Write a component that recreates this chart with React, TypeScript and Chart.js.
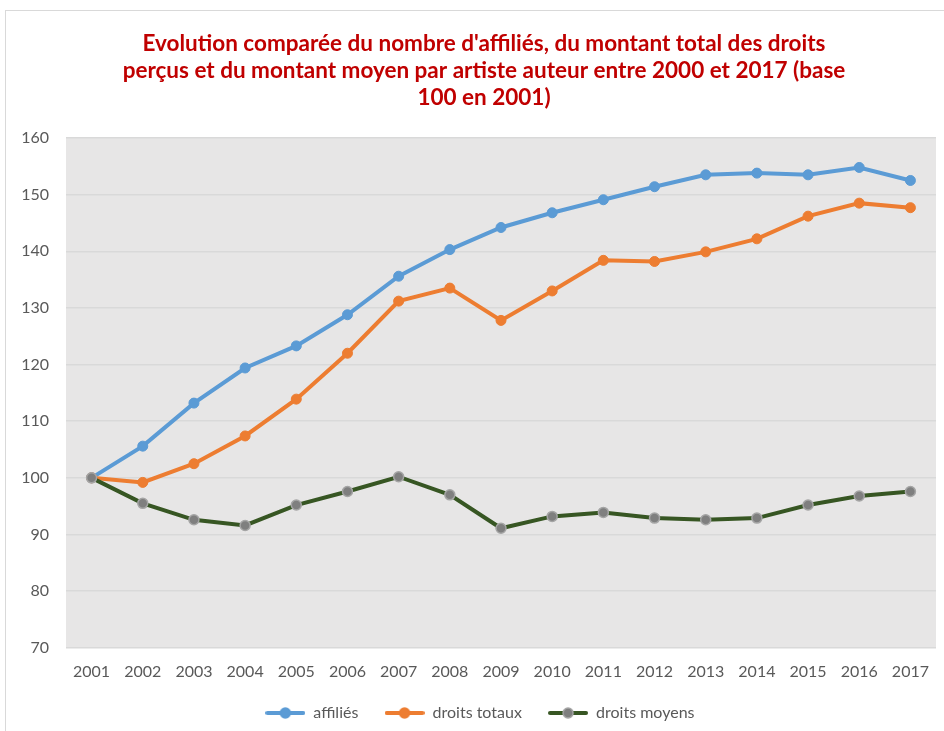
import React, { useEffect, useRef } from "react";
import { Chart, registerables } from "chart.js";

Chart.register(...registerables);

const years = ["2001","2002","2003","2004","2005","2006","2007","2008","2009","2010","2011","2012","2013","2014","2015","2016","2017"];
const affilies = [100, 105.6, 113.2, 119.4, 123.3, 128.8, 135.6, 140.3, 144.2, 146.8, 149.1, 151.4, 153.5, 153.8, 153.5, 154.8, 152.5];
const droitsTotaux = [100, 99.2, 102.5, 107.4, 113.9, 122.0, 131.2, 133.5, 127.8, 133.0, 138.4, 138.2, 139.9, 142.2, 146.2, 148.5, 147.7];
const droitsMoyens = [100, 95.5, 92.6, 91.6, 95.2, 97.6, 100.2, 97.0, 91.1, 93.2, 93.9, 92.9, 92.6, 92.9, 95.2, 96.8, 97.6];
const titleLines = [
  "Evolution comparée du nombre d'affiliés, du montant total des droits",
  "perçus et du montant moyen par artiste auteur entre 2000 et 2017 (base",
  "100 en 2001)",
];
const seriesNames = ["affiliés", "droits totaux", "droits moyens"];

function legendIcon(line: string, fill: string, border: string) {
  const c = document.createElement("canvas");
  c.width = 40;
  c.height = 14;
  const ctx = c.getContext("2d")!;
  ctx.strokeStyle = line;
  ctx.lineWidth = 4;
  ctx.lineCap = "round";
  ctx.beginPath();
  ctx.moveTo(2, 7);
  ctx.lineTo(38, 7);
  ctx.stroke();
  ctx.beginPath();
  ctx.arc(20, 7, 5, 0, Math.PI * 2);
  ctx.fillStyle = fill;
  ctx.fill();
  ctx.lineWidth = 1.5;
  ctx.strokeStyle = border;
  ctx.stroke();
  return c;
}

const bgPlugin = {
  id: "plotBg",
  beforeDraw(chart: any) {
    const { ctx, chartArea } = chart;
    if (!chartArea) return;
    ctx.save();
    ctx.fillStyle = "#E7E6E6";
    ctx.fillRect(chartArea.left, chartArea.top, chartArea.right - chartArea.left, chartArea.bottom - chartArea.top);
    ctx.restore();
  },
};

export default function App() {
  const ref = useRef<HTMLCanvasElement>(null);
  useEffect(() => {
    const icons = [
      legendIcon("#5B9BD5", "#5B9BD5", "#5B9BD5"),
      legendIcon("#ED7D31", "#ED7D31", "#ED7D31"),
      legendIcon("#375623", "#7F7F7F", "#A5A5A5"),
    ];
    const chart = new Chart(ref.current!, {
      type: "line",
      data: {
        labels: years,
        datasets: [
          {
            label: seriesNames[0],
            data: affilies,
            borderColor: "#5B9BD5",
            backgroundColor: "#5B9BD5",
            pointBackgroundColor: "#5B9BD5",
            pointBorderColor: "#5B9BD5",
            borderWidth: 4,
            pointRadius: 5,
            pointBorderWidth: 1,
            order: 2,
          },
          {
            label: seriesNames[1],
            data: droitsTotaux,
            borderColor: "#ED7D31",
            backgroundColor: "#ED7D31",
            pointBackgroundColor: "#ED7D31",
            pointBorderColor: "#ED7D31",
            borderWidth: 4,
            pointRadius: 5,
            pointBorderWidth: 1,
            order: 1,
          },
          {
            label: seriesNames[2],
            data: droitsMoyens,
            borderColor: "#375623",
            backgroundColor: "#7F7F7F",
            pointBackgroundColor: "#7F7F7F",
            pointBorderColor: "#A5A5A5",
            borderWidth: 4,
            pointRadius: 5,
            pointBorderWidth: 1.5,
            order: 0,
          },
        ],
      },
      options: {
        animation: false,
        responsive: false,
        layout: { padding: { left: 9, right: 8, top: 30, bottom: 0 } },
        plugins: {
          title: {
            display: true,
            text: titleLines,
            color: "#C00000",
            font: { family: "Lato", size: 22.5, weight: "bold" },
            lineHeight: 1.4,
            padding: { top: 0, bottom: 27 },
          },
          legend: {
            position: "bottom",
            labels: {
              usePointStyle: true,
              pointStyleWidth: 40,
              color: "#595959",
              font: { family: "Lato", size: 16 },
              padding: 18,
              generateLabels: () =>
                seriesNames.map((n, i) => ({
                  text: n + "\u00A0\u00A0",
                  pointStyle: icons[i] as any,
                  fillStyle: "transparent",
                  strokeStyle: "transparent",
                  lineWidth: 0,
                  fontColor: "#595959",
                  hidden: false,
                  datasetIndex: i,
                })),
            },
          },
          tooltip: { enabled: false },
        },
        scales: {
          x: {
            offset: true,
            grid: { display: false },
            border: { display: false },
            ticks: { color: "#595959", font: { family: "Lato", size: 16 }, padding: 6 },
          },
          y: {
            min: 70,
            max: 160,
            afterFit: (scale: any) => {
              scale.width = 57;
            },
            ticks: { stepSize: 10, color: "#595959", font: { family: "Lato", size: 16 }, padding: 17 },
            grid: { color: "#D9D9D9", lineWidth: 1.5, drawTicks: false },
            border: { display: false },
          },
          yRight: {
            position: "right",
            min: 70,
            max: 160,
            afterFit: (scale: any) => {
              scale.width = 23;
            },
            ticks: { display: false },
            grid: { display: false, drawTicks: false },
            border: { display: false },
          },
        },
      },
      plugins: [bgPlugin],
    });
    return () => chart.destroy();
  }, []);
  return (
    <div style={{ position: "fixed", left: 0, top: 0, width: 944, height: 731, background: "#fff", overflow: "hidden" }}>
      <div style={{ position: "absolute", left: 5, top: 10, width: 960, height: 760, border: "1px solid #D9D9D9" }} />
      <canvas ref={ref} width={967} height={731} style={{ position: "absolute", left: 0, top: 0 }} />
    </div>
  );
}
